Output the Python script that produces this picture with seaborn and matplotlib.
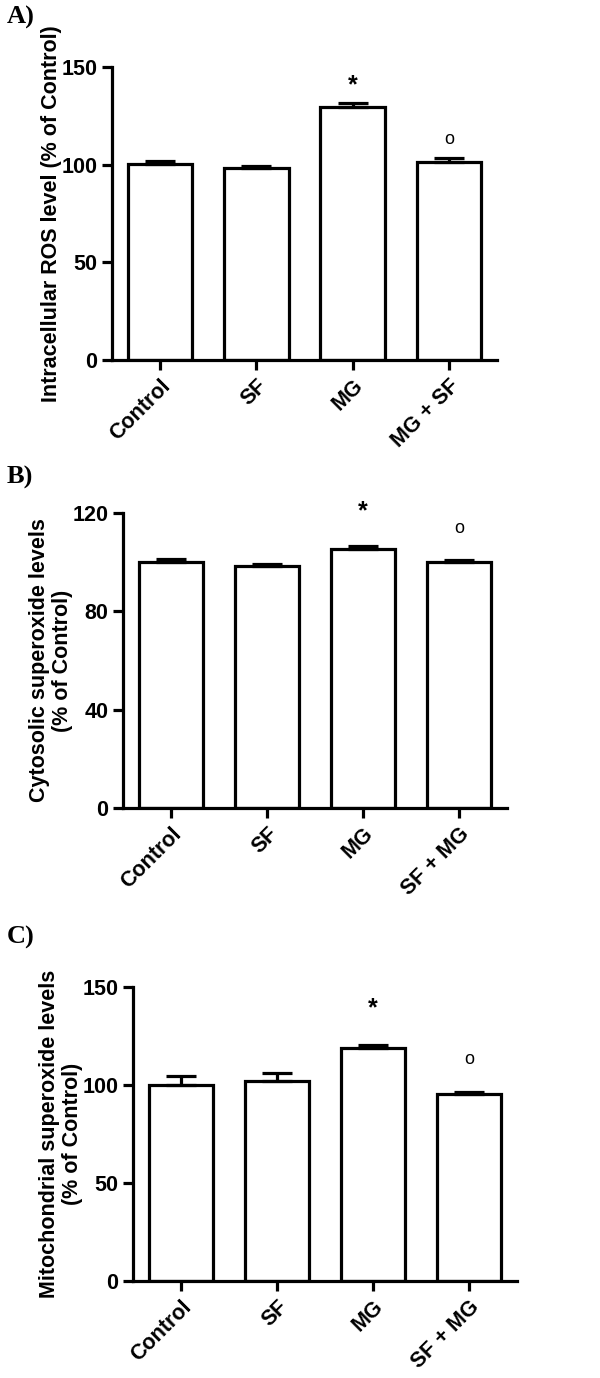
"""
Three-panel bar chart of ROS / superoxide levels (% of Control).
Bars with upward-only SEM error bars, GraphPad-like styling.
"""

import numpy as np
import matplotlib
matplotlib.use('Agg')
import matplotlib.pyplot as plt
import seaborn as sns

sns.set_style("ticks")
plt.rcParams['font.family'] = ['Liberation Sans', 'DejaVu Sans']
plt.rcParams['font.weight'] = 'bold'
for key in ['text.color', 'axes.labelcolor', 'xtick.color', 'ytick.color', 'axes.edgecolor']:
    plt.rcParams[key] = 'black'

# -------------------- data --------------------
labels_a = ['Control', 'SF', 'MG', 'MG + SF']
means_a = [100.2, 98.1, 129.4, 101.2]
errs_a = [1.7, 1.4, 2.2, 2.2]
marks_a = ['', '', '*', 'o']
ylabel_a = 'Intracellular ROS level (% of Control)'
ticks_a = [0, 50, 100, 150]

labels_b = ['Control', 'SF', 'MG', 'SF + MG']
means_b = [100.0, 98.5, 105.5, 100.0]
errs_b = [1.3, 0.8, 1.0, 1.0]
marks_b = ['', '', '*', 'o']
ylabel_b = 'Cytosolic superoxide levels\n(% of Control)'
ticks_b = [0, 40, 80, 120]

labels_c = ['Control', 'SF', 'MG', 'SF + MG']
means_c = [99.8, 102.2, 119.1, 95.6]
errs_c = [4.6, 3.9, 1.5, 0.7]
marks_c = ['', '', '*', 'o']
ylabel_c = 'Mitochondrial superoxide levels\n(% of Control)'
ticks_c = [0, 50, 100, 150]

# y position (data units) of the significance marks
mark_y_a = [0, 0, 140.5, 113]
mark_y_b = [0, 0, 120.5, 113.5]
mark_y_c = [0, 0, 139, 113]

W, H = 600, 1378
fig = plt.figure(figsize=(W / 100, H / 100), dpi=100)


def px_axes(left, right, top, bottom):
    """Add axes given pixel edges (from top-left)."""
    return fig.add_axes([left / W, 1 - bottom / H, (right - left) / W, (bottom - top) / H])


def draw_panel(ax, labels, means, errs, marks, mark_y, ylabel, ticks, letter, letter_y):
    sns.barplot(x=labels, y=means, color='white', edgecolor='black', linewidth=2.3,
                width=0.67, saturation=1, errorbar=None, ax=ax)
    x = np.arange(len(labels))
    ax.errorbar(x, means, yerr=[np.zeros(len(errs)), errs], fmt='none', ecolor='black',
                elinewidth=2.3, capsize=11, capthick=2.3, zorder=1)
    for i, m in enumerate(marks):
        if m == '*':
            ax.text(x[i], mark_y[i], '*', ha='center', va='center', fontsize=18)
        elif m == 'o':
            ax.text(x[i], mark_y[i], 'o', ha='center', va='center', fontsize=13,
                    fontweight='normal')
    ax.set_xlim(-0.5, 3.5)
    ax.set_ylim(0, ticks[-1])
    ax.set_yticks(ticks)
    ax.set_xlabel('')
    ax.set_ylabel(ylabel, fontsize=15.5, fontweight='bold', linespacing=1.1)
    ax.yaxis.set_label_coords(-0.13, 0.5)
    sns.despine(ax=ax)
    for s in ['left', 'bottom']:
        ax.spines[s].set_linewidth(2.3)
    ax.tick_params(axis='both', width=2.3, length=7, labelsize=15.5)
    ax.tick_params(axis='x', pad=4)
    for t in ax.get_xticklabels():
        t.set_rotation(45)
        t.set_ha('right')
        t.set_rotation_mode('anchor')
        t.set_fontweight('bold')
    for t in ax.get_yticklabels():
        t.set_fontweight('bold')
    fig.text(7 / W, 1 - letter_y / H, letter, ha='left', va='top', fontsize=19,
             fontweight='bold', family='Liberation Serif')


ax_a = px_axes(112, 497, 67, 360)
draw_panel(ax_a, labels_a, means_a, errs_a, marks_a, mark_y_a, ylabel_a, ticks_a, 'A)', 6)

ax_b = px_axes(123, 507, 513, 808)
draw_panel(ax_b, labels_b, means_b, errs_b, marks_b, mark_y_b, ylabel_b, ticks_b, 'B)', 466)

ax_c = px_axes(133, 517, 987, 1281)
draw_panel(ax_c, labels_c, means_c, errs_c, marks_c, mark_y_c, ylabel_c, ticks_c, 'C)', 926)

fig.savefig('out.png', dpi=100)
